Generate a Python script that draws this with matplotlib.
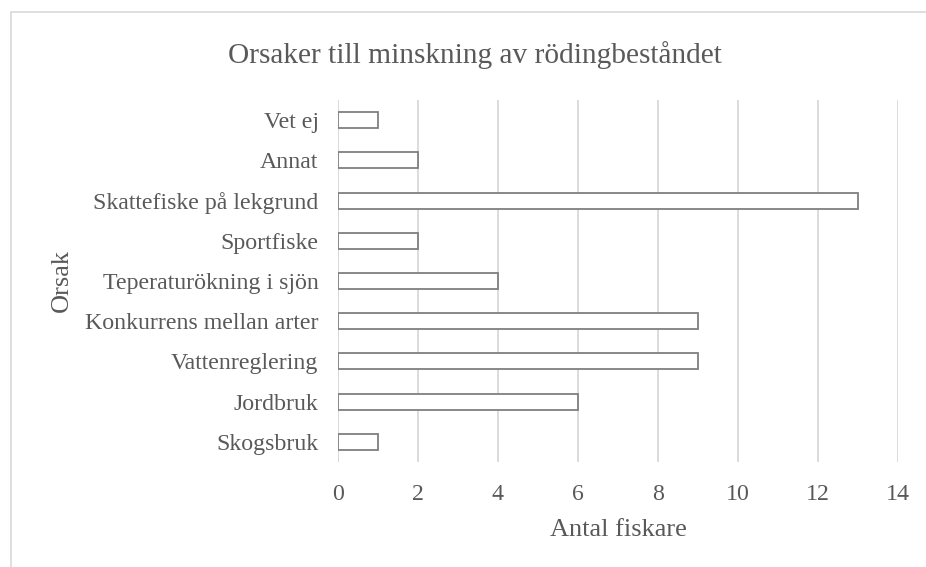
import matplotlib
matplotlib.use("Agg")
import matplotlib.pyplot as plt
from matplotlib.patches import Rectangle

categories = ["Skogsbruk", "Jordbruk", "Vattenreglering", "Konkurrens mellan arter",
              "Teperaturökning i sjön", "Sportfiske", "Skattefiske på lekgrund", "Annat", "Vet ej"]
values = [1, 6, 9, 9, 4, 2, 13, 2, 1]
xticks = [0, 2, 4, 6, 8, 10, 12, 14]

plt.rcParams['font.family'] = ['Liberation Serif', 'DejaVu Serif']
txt = '#595959'

fig = plt.figure(figsize=(9.26, 5.67), dpi=100)
fig.patches.append(Rectangle((11/926, -0.1), 1, 1.1 - 12/567, transform=fig.transFigure,
                             fill=False, edgecolor='#d9d9d9', linewidth=1.2))
ax = fig.add_axes([338/926, 1 - 462/567, (898 - 338)/926, (462 - 100)/567])

y = list(range(len(categories)))
ax.barh(y, values, height=0.4, color='white', edgecolor='#7f7f7f', linewidth=1.3, zorder=3)
ax.set_yticks(y)
ax.set_yticklabels(categories)
ax.set_ylim(-0.5, len(categories) - 0.5)
ax.set_xlim(0, 14)
ax.set_xticks(xticks)
ax.grid(axis='x', color='#d9d9d9', linewidth=1.3, zorder=0)
for s in ax.spines.values():
    s.set_visible(False)
ax.axvline(0, color='#d9d9d9', linewidth=1.3, zorder=1)
ax.tick_params(length=0, labelsize=17.2, colors=txt)
ax.tick_params(axis='y', pad=14)
ax.tick_params(axis='x', pad=16)
ax.set_xlabel("Antal fiskare", fontsize=19, color=txt, va='center')
ax.xaxis.set_label_coords(0.5, -(530 - 462) / 362)
ax.set_ylabel("Orsak", fontsize=19, color=txt, va='center')
ax.yaxis.set_label_coords(-(338 - 62) / 560, 0.5)
fig.text(475 / 926, 1 - 55/567, "Orsaker till minskning av rödingbeståndet",
         ha='center', va='center', fontsize=21.2, color=txt)

fig.savefig("out.png", dpi=100)
